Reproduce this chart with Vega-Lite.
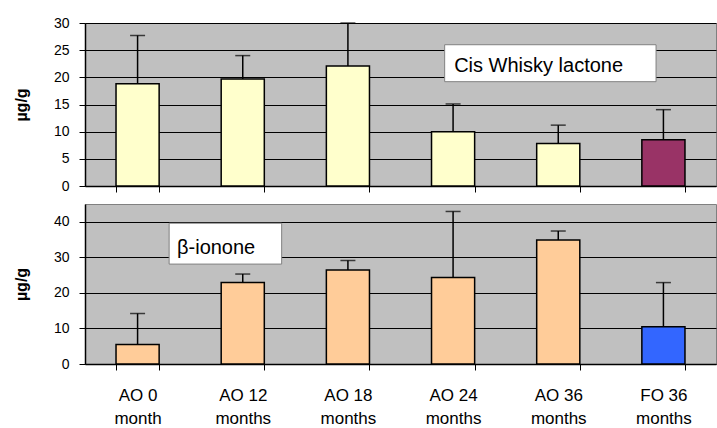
{
  "$schema": "https://vega.github.io/schema/vega-lite/v6.json",
  "background": "white",
  "padding": {"left": 12, "top": 15, "right": 0, "bottom": 0},
  "bounds": "flush",
  "spacing": 18,
  "config": {
    "view": {"fill": "#C0C0C0", "stroke": "#808080", "strokeWidth": 1},
    "font": "Liberation Sans",
    "axis": {
      "domainColor": "black", "domainWidth": 1.5, "tickColor": "black", "tickWidth": 1, "gridColor": "black", "gridWidth": 1,
      "labelColor": "black", "titleColor": "black", "labelFont": "Liberation Sans", "titleFont": "Liberation Sans"
    }
  },
  "resolve": {"scale": {"x": "independent", "y": "independent", "fill": "independent"}},
  "datasets": {
    "lactone": [
      {"sample": "AO 0 month", "oak": "AO", "mean": 18.8, "upper": 27.7},
      {"sample": "AO 12 months", "oak": "AO", "mean": 19.7, "upper": 24.0},
      {"sample": "AO 18 months", "oak": "AO", "mean": 22.1, "upper": 30.0},
      {"sample": "AO 24 months", "oak": "AO", "mean": 10.0, "upper": 15.1},
      {"sample": "AO 36 months", "oak": "AO", "mean": 7.8, "upper": 11.2},
      {"sample": "FO 36 months", "oak": "FO", "mean": 8.5, "upper": 14.05}
    ],
    "ionone": [
      {"sample": "AO 0 month", "oak": "AO", "mean": 5.5, "upper": 14.2},
      {"sample": "AO 12 months", "oak": "AO", "mean": 22.9, "upper": 25.3},
      {"sample": "AO 18 months", "oak": "AO", "mean": 26.45, "upper": 29.1},
      {"sample": "AO 24 months", "oak": "AO", "mean": 24.3, "upper": 42.9},
      {"sample": "AO 36 months", "oak": "AO", "mean": 34.9, "upper": 37.4},
      {"sample": "FO 36 months", "oak": "FO", "mean": 10.5, "upper": 22.9}
    ],
    "labelTop": [
      {"x": 3.42, "x2": 5.43, "y": 26.0, "y2": 19.2, "tx": 3.51, "ty": 20.9, "label": "Cis Whisky lactone"}
    ],
    "labelBottom": [
      {"x": 0.8, "x2": 1.87, "y": 39.6, "y2": 28.1, "tx": 0.875, "ty": 30.9, "label": "β-ionone"}
    ]
  },
  "vconcat": [
    {
      "width": 631,
      "height": 163,
      "resolve": {"scale": {"x": "independent"}},
      "layer": [
        {
          "data": {"name": "lactone"},
          "encoding": {
            "x": {"field": "sample", "type": "nominal", "sort": null,
              "scale": {"paddingInner": 0.59, "paddingOuter": 0.295},
              "axis": {"title": null, "labels": false, "tickBand": "extent", "tickSize": 6, "grid": false}}
          },
          "layer": [
            {
              "mark": {"type": "bar", "stroke": "black", "strokeWidth": 1.5},
              "encoding": {
                "y": {"field": "mean", "type": "quantitative", "scale": {"domain": [0, 30], "nice": false},
                  "axis": {"title": "µg/g", "titleFontSize": 16, "titleFontWeight": "bold", "titlePadding": 24,
                    "labelFontSize": 14, "labelPadding": 10, "tickSize": 6, "values": [0, 5, 10, 15, 20, 25, 30], "grid": true}},
                "fill": {"field": "oak", "type": "nominal", "scale": {"domain": ["AO", "FO"], "range": ["#FFFFCC", "#993366"]}, "legend": null}
              }
            },
            {
              "mark": {"type": "rule", "color": "black", "strokeWidth": 1.5},
              "encoding": {
                "y": {"field": "mean", "type": "quantitative",
                  "axis": {"title": "µg/g", "titleFontSize": 16, "titleFontWeight": "bold", "titlePadding": 24,
                    "labelFontSize": 14, "labelPadding": 10, "tickSize": 6, "values": [0, 5, 10, 15, 20, 25, 30], "grid": true}},
                "y2": {"field": "upper"}
              }
            },
            {
              "mark": {"type": "tick", "color": "black", "size": 15, "thickness": 1.5, "orient": "horizontal"},
              "encoding": {
                "y": {"field": "upper", "type": "quantitative",
                  "axis": {"title": "µg/g", "titleFontSize": 16, "titleFontWeight": "bold", "titlePadding": 24,
                    "labelFontSize": 14, "labelPadding": 10, "tickSize": 6, "values": [0, 5, 10, 15, 20, 25, 30], "grid": true}}
              }
            }
          ]
        },
        {
          "data": {"name": "labelTop"},
          "layer": [
            {
              "mark": {"type": "rect", "fill": "white", "stroke": "#808080", "strokeWidth": 1},
              "encoding": {
                "x": {"field": "x", "type": "quantitative", "scale": {"domain": [0, 6], "nice": false, "zero": false}, "axis": null},
                "x2": {"field": "x2"},
                "y": {"field": "y", "type": "quantitative",
                  "axis": {"title": "µg/g", "titleFontSize": 16, "titleFontWeight": "bold", "titlePadding": 24,
                    "labelFontSize": 14, "labelPadding": 10, "tickSize": 6, "values": [0, 5, 10, 15, 20, 25, 30], "grid": true}},
                "y2": {"field": "y2"}
              }
            },
            {
              "mark": {"type": "text", "align": "left", "baseline": "alphabetic", "fontSize": 20, "color": "black", "font": "Liberation Sans"},
              "encoding": {
                "x": {"field": "tx", "type": "quantitative", "scale": {"domain": [0, 6], "nice": false, "zero": false}, "axis": null},
                "y": {"field": "ty", "type": "quantitative",
                  "axis": {"title": "µg/g", "titleFontSize": 16, "titleFontWeight": "bold", "titlePadding": 24,
                    "labelFontSize": 14, "labelPadding": 10, "tickSize": 6, "values": [0, 5, 10, 15, 20, 25, 30], "grid": true}},
                "text": {"field": "label"}
              }
            }
          ]
        }
      ]
    },
    {
      "width": 631,
      "height": 160,
      "resolve": {"scale": {"x": "independent"}},
      "layer": [
        {
          "data": {"name": "ionone"},
          "encoding": {
            "x": {"field": "sample", "type": "nominal", "sort": null,
              "scale": {"paddingInner": 0.59, "paddingOuter": 0.295},
              "axis": {"title": null, "labelAngle": 0, "tickBand": "extent", "tickSize": 6, "grid": false,
                "labelFontSize": 17, "labelLineHeight": 23, "labelPadding": 17, "labelBaseline": "top",
                "labelExpr": "[slice(datum.label, 0, indexof(datum.label, ' m')), slice(datum.label, indexof(datum.label, ' m') + 1)]"}}
          },
          "layer": [
            {
              "mark": {"type": "bar", "stroke": "black", "strokeWidth": 1.5},
              "encoding": {
                "y": {"field": "mean", "type": "quantitative", "scale": {"domain": [0, 45], "nice": false},
                  "axis": {"title": "µg/g", "titleFontSize": 16, "titleFontWeight": "bold", "titlePadding": 24,
                    "labelFontSize": 14, "labelPadding": 10, "tickSize": 6, "values": [0, 10, 20, 30, 40], "grid": true}},
                "fill": {"field": "oak", "type": "nominal", "scale": {"domain": ["AO", "FO"], "range": ["#FFCC99", "#3366FF"]}, "legend": null}
              }
            },
            {
              "mark": {"type": "rule", "color": "black", "strokeWidth": 1.5},
              "encoding": {
                "y": {"field": "mean", "type": "quantitative",
                  "axis": {"title": "µg/g", "titleFontSize": 16, "titleFontWeight": "bold", "titlePadding": 24,
                    "labelFontSize": 14, "labelPadding": 10, "tickSize": 6, "values": [0, 10, 20, 30, 40], "grid": true}},
                "y2": {"field": "upper"}
              }
            },
            {
              "mark": {"type": "tick", "color": "black", "size": 15, "thickness": 1.5, "orient": "horizontal"},
              "encoding": {
                "y": {"field": "upper", "type": "quantitative",
                  "axis": {"title": "µg/g", "titleFontSize": 16, "titleFontWeight": "bold", "titlePadding": 24,
                    "labelFontSize": 14, "labelPadding": 10, "tickSize": 6, "values": [0, 10, 20, 30, 40], "grid": true}}
              }
            }
          ]
        },
        {
          "data": {"name": "labelBottom"},
          "layer": [
            {
              "mark": {"type": "rect", "fill": "white", "stroke": "#808080", "strokeWidth": 1},
              "encoding": {
                "x": {"field": "x", "type": "quantitative", "scale": {"domain": [0, 6], "nice": false, "zero": false}, "axis": null},
                "x2": {"field": "x2"},
                "y": {"field": "y", "type": "quantitative",
                  "axis": {"title": "µg/g", "titleFontSize": 16, "titleFontWeight": "bold", "titlePadding": 24,
                    "labelFontSize": 14, "labelPadding": 10, "tickSize": 6, "values": [0, 10, 20, 30, 40], "grid": true}},
                "y2": {"field": "y2"}
              }
            },
            {
              "mark": {"type": "text", "align": "left", "baseline": "alphabetic", "fontSize": 20, "color": "black", "font": "Liberation Sans"},
              "encoding": {
                "x": {"field": "tx", "type": "quantitative", "scale": {"domain": [0, 6], "nice": false, "zero": false}, "axis": null},
                "y": {"field": "ty", "type": "quantitative",
                  "axis": {"title": "µg/g", "titleFontSize": 16, "titleFontWeight": "bold", "titlePadding": 24,
                    "labelFontSize": 14, "labelPadding": 10, "tickSize": 6, "values": [0, 10, 20, 30, 40], "grid": true}},
                "text": {"field": "label"}
              }
            }
          ]
        }
      ]
    }
  ]
}
